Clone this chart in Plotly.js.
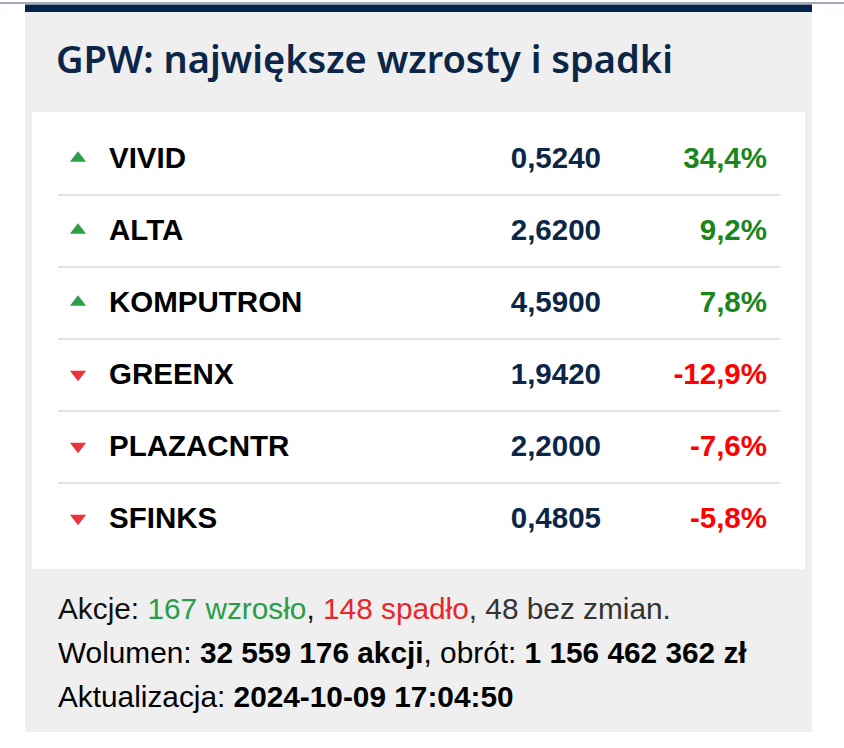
<!DOCTYPE html>
<html>
<head>
<meta charset="utf-8">
<script src="https://cdn.plot.ly/plotly-3.0.1.min.js"></script>
<style>
html,body{margin:0;padding:0;background:#ffffff;}
#chart{width:844px;height:748px;}
</style>
</head>
<body>
<div id="chart"></div>
<script>
// ---- data ----
var tickers = ["VIVID", "ALTA", "KOMPUTRON", "GREENX", "PLAZACNTR", "SFINKS"];
var prices = ["0,5240", "2,6200", "4,5900", "1,9420", "2,2000", "0,4805"];
var changes = [34.4, 9.2, 7.8, -12.9, -7.6, -5.8];
var titleText = "GPW: największe wzrosty i spadki";
var risersCount = 167, fallersCount = 148, unchangedCount = 48;
var volumeText = "32 559 176 akcji";
var turnoverText = "1 156 462 362 zł";
var updatedText = "2024-10-09 17:04:50";

// ---- layout constants ----
var W = 844, H = 748;
var ROW_H = 72, ROW0_PX = 159;
var yA = -ROW0_PX / ROW_H;          // value at top pixel
var yB = yA + H / ROW_H;            // value at bottom pixel
var TXT_DY = 2 / ROW_H;             // small downward nudge for text baseline
function py(p) { return 1 - p / H; }  // pixel -> paper y
function px(p) { return p / W; }      // pixel -> paper x

var NAVY = "#0b2647";
var GREEN_T = "#2e9e4a", RED_T = "#e8343a";
var GREEN_P = "#1a851a", RED_P = "#ff0000";
var BODY = "Liberation Sans, Arial, sans-serif";
var FS = 29.5;
var FS_FOOT = 29.8;

var rows = tickers.map(function (_, i) { return i; });
var textRows = rows.map(function (i) { return i + TXT_DY; });
function fmtPct(v) { return (v > 0 ? "" : "-") + Math.abs(v).toFixed(1).replace(".", ",") + "%"; }

var traces = [
  { // arrows
    type: "scatter", mode: "markers", hoverinfo: "skip",
    x: rows.map(function () { return 78; }), y: rows.map(function (i) { return i - 0.01; }),
    marker: {
      size: 14,
      symbol: changes.map(function (c) { return c > 0 ? "triangle-up" : "triangle-down"; }),
      color: changes.map(function (c) { return c > 0 ? GREEN_T : RED_T; }),
      line: { width: 0 }
    }
  },
  { // names
    type: "scatter", mode: "text", hoverinfo: "skip",
    x: rows.map(function () { return 109; }), y: textRows,
    text: tickers, textposition: "middle right",
    textfont: { family: BODY, size: FS, color: "#000000", weight: 700 }
  },
  { // prices
    type: "scatter", mode: "text", hoverinfo: "skip",
    x: rows.map(function () { return 601; }), y: textRows,
    text: prices, textposition: "middle left",
    textfont: { family: BODY, size: FS, color: NAVY, weight: 700 }
  },
  { // changes
    type: "scatter", mode: "text", hoverinfo: "skip",
    x: rows.map(function () { return 767; }), y: textRows,
    text: changes.map(fmtPct), textposition: "middle left",
    textfont: { family: BODY, size: FS, weight: 700,
      color: changes.map(function (c) { return c > 0 ? GREEN_P : RED_P; }) }
  }
];

var shapes = [
  { type: "rect", xref: "paper", yref: "paper", x0: 0, x1: 1, y0: py(4), y1: py(2), fillcolor: "#a3abb9", line: { width: 0 }, layer: "below" },
  { type: "rect", xref: "paper", yref: "paper", x0: px(25), x1: px(812), y0: py(732), y1: py(12), fillcolor: "#efefef", line: { width: 0 }, layer: "below" },
  { type: "rect", xref: "paper", yref: "paper", x0: px(25), x1: px(812), y0: py(12), y1: py(4.5), fillcolor: "#04234a", line: { width: 0 }, layer: "below" },
  { type: "rect", xref: "paper", yref: "paper", x0: px(32), x1: px(805), y0: py(569), y1: py(112), fillcolor: "#ffffff", line: { width: 0 }, layer: "below" }
];
for (var i = 0; i < tickers.length - 1; i++) {
  shapes.push({ type: "line", xref: "x", yref: "y", x0: 58, x1: 780, y0: i + 0.5, y1: i + 0.5,
    line: { color: "#e2e2e2", width: 2 }, layer: "below" });
}

var annotations = [
  { xref: "paper", yref: "paper", x: px(56), y: py(608), xanchor: "left", yanchor: "middle", showarrow: false,
    font: { family: BODY, size: FS_FOOT, color: "#111111" },
    text: "Akcje: <span style='color:#2a9d49'>" + risersCount + " wzrosło</span>, <span style='color:#e8262b'>" +
          fallersCount + " spadło</span><span style='color:#333333'>, " + unchangedCount + " bez zmian.</span>" },
  { xref: "paper", yref: "paper", x: px(56), y: py(652), xanchor: "left", yanchor: "middle", showarrow: false,
    font: { family: BODY, size: FS_FOOT, color: "#000000" },
    text: "Wolumen: <b>" + volumeText + "</b>, obrót: <b>" + turnoverText + "</b>" },
  { xref: "paper", yref: "paper", x: px(56), y: py(696), xanchor: "left", yanchor: "middle", showarrow: false,
    font: { family: BODY, size: FS_FOOT, color: "#000000" },
    text: "Aktualizacja: <b>" + updatedText + "</b>" }
];

var layout = {
  width: W, height: H,
  margin: { l: 0, r: 0, t: 0, b: 0, pad: 0 },
  paper_bgcolor: "#ffffff", plot_bgcolor: "rgba(0,0,0,0)",
  showlegend: false,
  title: { text: titleText, x: px(56), xref: "paper", xanchor: "left", y: py(60), yref: "container", yanchor: "middle",
    font: { family: "Noto Sans, sans-serif", size: 38, color: NAVY, weight: 600 } },
  xaxis: { range: [0, W], visible: false, fixedrange: true },
  yaxis: { range: [yB, yA], visible: false, fixedrange: true },
  shapes: shapes,
  annotations: annotations
};

Plotly.newPlot("chart", traces, layout, { displayModeBar: false, staticPlot: true });
</script>
</body>
</html>
